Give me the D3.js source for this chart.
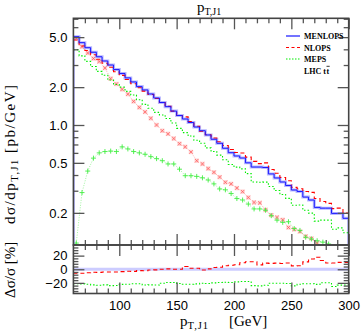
<!DOCTYPE html>
<html>
<head>
<meta charset="utf-8">
<script src="https://cdnjs.cloudflare.com/ajax/libs/d3/7.8.5/d3.min.js"></script>
<style>
body { margin: 0; background: #fff; }
</style>
</head>
<body>
<svg></svg>
<script>
var width = 362;
var height = 332;

// 5 GeV bins of the leading jet pT
var edges = [60,65,70,75,80,85,90,95,100,105,110,115,120,125,130,135,140,145,150,155,
  160,165,170,175,180,185,190,195,200,205,210,215,220,225,230,235,240,245,250,255,
  260,265,270,275,280,285,290,295,300];

var menlops = [5.04,4.52,4.12,3.79,3.49,3.23,3.00,2.76,2.57,2.37,2.20,2.02,1.90,1.765,1.64,1.51,
  1.40,1.29,1.19,1.116,1.047,0.964,0.90,0.833,0.77,0.715,0.653,0.602,0.567,0.546,0.50,0.463,
  0.463,0.459,0.408,0.379,0.352,0.330,0.304,0.296,0.267,0.253,0.221,0.218,0.218,0.198,0.198,0.181];
var nlops = [4.74,4.25,3.91,3.62,3.33,3.10,2.88,2.65,2.48,2.30,2.13,1.98,1.86,1.747,1.624,1.51,
  1.407,1.29,1.19,1.161,1.063,0.978,0.891,0.837,0.789,0.736,0.686,0.638,0.604,0.598,0.555,0.514,
  0.493,0.500,0.443,0.413,0.382,0.360,0.319,0.311,0.296,0.291,0.260,0.246,0.238,0.216,0.218,0.199];
var meps = [3.98,3.55,3.21,2.92,2.67,2.49,2.28,2.10,2.00,1.85,1.73,1.59,1.46,1.36,1.26,1.20,
  1.127,1.038,0.940,0.870,0.817,0.757,0.716,0.658,0.616,0.576,0.529,0.485,0.462,0.448,0.41,0.352,
  0.350,0.351,0.324,0.301,0.280,0.261,0.230,0.231,0.210,0.199,0.172,0.175,0.175,0.148,0.152,0.139];
// the two marked curves
var redCross = [4.9,4.2,3.74,3.38,3.20,2.84,2.34,2.12,1.92,1.76,1.54,1.38,1.27,1.13,1.00,0.90,
  0.85,0.78,0.71,0.67,0.61,0.52,0.49,0.45,0.42,0.385,0.35,0.34,0.315,0.295,0.265,0.242,
  0.24,0.211,0.192,0.184,0.176,0.153,0.148,0.142,0.130,0.125,0.115,0.107,0.100,0.095,0.090,0.085];
var greenPlus = [0.115,0.29,0.43,0.545,0.60,0.615,0.62,0.615,0.67,0.645,0.615,0.60,0.585,0.56,0.54,0.52,
  0.49,0.49,0.445,0.395,0.395,0.39,0.38,0.365,0.34,0.31,0.305,0.285,0.26,0.253,0.235,0.215,
  0.215,0.21,0.19,0.175,0.168,0.17,0.15,0.145,0.128,0.124,0.12,0.117,0.113,0.105,0.10,0.095];

var xMajor = [100,150,200,250,300];
var xMinor = [70,80,90,110,120,130,140,160,170,180,190,210,220,230,240,260,270,280,290];
var yMajor = [0.2,0.5,1,2,5];
var yMinor = [0.3,0.4,0.6,0.7,0.8,0.9,3,4,6,7];
var rMajor = [-20,0,20];
var rMinor = [-32,-28,-24,-16,-12,-8,-4,4,8,12,16,24,28,32];

var legendItems = [
  {label: 'MENLOPS', color: '#0000ff', dash: null},
  {label: 'NLOPS', color: '#ff0000', dash: '3,2.5'},
  {label: 'MEPS', color: '#00ee00', dash: '1.5,1.5'}
];

var svg = d3.select('svg')
  .attr('width', width)
  .attr('height', height)
  .style('background-color', '#fff');

var L = 73.4, R = 348.7, T = 18.3, M = 245, B = 293.5;

var x = d3.scaleLinear().domain([60, 300]).range([L, R]);
var y = d3.scaleLog().domain([0.111, 7.06]).range([M, T]);
var yr = d3.scaleLinear().domain([-35.6, 35.6]).range([B, M]);

svg.append('clipPath').attr('id', 'clipMain')
  .append('rect').attr('x', L).attr('y', T).attr('width', R - L).attr('height', M - T);
svg.append('clipPath').attr('id', 'clipRatio')
  .append('rect').attr('x', L).attr('y', M).attr('width', R - L).attr('height', B - M);

// histogram as step points
function steps(vals, closed, floor) {
  var pts = [];
  if (closed) pts.push([edges[0], floor]);
  vals.forEach(function(v, i) { pts.push([edges[i], v]); });
  pts.push([edges[edges.length - 1], vals[vals.length - 1]]);
  if (closed) pts.push([edges[edges.length - 1], floor]);
  return pts;
}

var stepLine = d3.line()
  .x(d => x(d[0]))
  .y(d => y(Math.max(d[1], 0.05)))
  .curve(d3.curveStepAfter);

var ratioLine = d3.line()
  .x(d => x(d[0]))
  .y(d => yr(d[1]))
  .curve(d3.curveStepAfter);

var centers = edges.slice(0, -1).map(e => e + 2.5);

var gMain = svg.append('g').attr('clip-path', 'url(#clipMain)');

// marked curves
gMain.append('path')
  .datum(redCross)
  .attr('d', d3.line().x((d, i) => x(centers[i])).y(d => y(d)))
  .attr('fill', 'none')
  .attr('stroke', '#ff8080')
  .attr('stroke-width', 0.7)
  .attr('stroke-dasharray', '1,1.5');
var crosses = gMain.append('g').selectAll('g')
  .data(redCross)
  .enter().append('g')
  .attr('transform', (d, i) => 'translate(' + x(centers[i]) + ',' + y(d) + ')');
crosses.append('rect')
  .attr('x', -2.2).attr('y', -2.2).attr('width', 4.4).attr('height', 4.4)
  .attr('fill', '#ffd2d2');
crosses.append('path')
  .attr('d', 'M-1.7,-1.7L1.7,1.7M-1.7,1.7L1.7,-1.7')
  .attr('stroke', '#ff5555')
  .attr('stroke-width', 0.7);

gMain.append('path')
  .datum(greenPlus)
  .attr('d', d3.line().x((d, i) => x(centers[i])).y(d => y(d)))
  .attr('fill', 'none')
  .attr('stroke', '#77ee77')
  .attr('stroke-width', 0.7)
  .attr('stroke-dasharray', '1,1.5');
gMain.append('path')
  .attr('d', 'M' + (x(60) + 0.5) + ',' + y(0.095) + 'L' + x(centers[0]) + ',' + y(greenPlus[0]))
  .attr('stroke', '#77ee77')
  .attr('stroke-width', 0.7)
  .attr('stroke-dasharray', '1,1.5');
gMain.append('g').selectAll('path')
  .data(greenPlus)
  .enter().append('path')
  .attr('transform', (d, i) => 'translate(' + x(centers[i]) + ',' + y(d) + ')')
  .attr('d', 'M-2.5,0L2.5,0M0,-2.5L0,2.5')
  .attr('stroke', '#44ee44')
  .attr('stroke-width', 0.9);

// histograms
gMain.append('path')
  .attr('d', stepLine(steps(menlops, true, 0.05)))
  .attr('fill', 'none')
  .attr('stroke', '#8888ff')
  .attr('stroke-opacity', 0.6)
  .attr('stroke-width', 3);
gMain.append('path')
  .attr('d', stepLine(steps(meps, false)))
  .attr('fill', 'none')
  .attr('stroke', '#00ee00')
  .attr('stroke-width', 1.1)
  .attr('stroke-dasharray', '1.5,2');
gMain.append('path')
  .attr('d', stepLine(steps(nlops, false)))
  .attr('fill', 'none')
  .attr('stroke', '#ff0000')
  .attr('stroke-width', 1.1)
  .attr('stroke-dasharray', '4,3');
gMain.append('path')
  .attr('d', stepLine(steps(menlops, true, 0.05)))
  .attr('fill', 'none')
  .attr('stroke', '#1a1aff')
  .attr('stroke-width', 1);

// ratio panel, relative to MENLOPS
var gRatio = svg.append('g').attr('clip-path', 'url(#clipRatio)');
function rel(vals) {
  return vals.map((v, i) => (v / menlops[i] - 1) * 100);
}
gRatio.append('path')
  .attr('d', ratioLine(steps(rel(menlops), false)))
  .attr('fill', 'none')
  .attr('stroke', '#ccccff')
  .attr('stroke-width', 3);
gRatio.append('path')
  .attr('d', ratioLine(steps(rel(meps), false)))
  .attr('fill', 'none')
  .attr('stroke', '#00ee00')
  .attr('stroke-width', 1.1)
  .attr('stroke-dasharray', '1.5,2');
gRatio.append('path')
  .attr('d', ratioLine(steps(rel(nlops), false)))
  .attr('fill', 'none')
  .attr('stroke', '#ff0000')
  .attr('stroke-width', 1.1)
  .attr('stroke-dasharray', '4,3');

// axes: ticks point inwards on all sides
function ticks(axis, tx, ty, vals, size, fmt) {
  var g = svg.append('g')
    .attr('transform', 'translate(' + tx + ',' + ty + ')')
    .call(axis.tickValues(vals).tickSize(-size).tickPadding(7).tickFormat(fmt || ''));
  g.select('.domain').remove();
  g.selectAll('line').attr('stroke', '#555').attr('stroke-width', 1.3);
  g.selectAll('text')
    .attr('fill', '#000')
    .style('font-family', '"Liberation Sans", Arial, sans-serif')
    .style('font-size', '13px');
  return g;
}

ticks(d3.axisLeft(y), L, 0, yMajor, 11, d3.format('.1f')).selectAll('text').attr('dx', 1);
ticks(d3.axisLeft(y), L, 0, yMinor, 5);
ticks(d3.axisRight(y), R, 0, yMajor, 11);
ticks(d3.axisRight(y), R, 0, yMinor, 5);
ticks(d3.axisTop(x), 0, T, xMajor, 11);
ticks(d3.axisTop(x), 0, T, xMinor, 5);
ticks(d3.axisBottom(x), 0, M, xMajor, 11);
ticks(d3.axisBottom(x), 0, M, xMinor, 5);
ticks(d3.axisTop(x), 0, M, xMajor, 11);
ticks(d3.axisTop(x), 0, M, xMinor, 5);
ticks(d3.axisBottom(x), 0, B, xMajor, 11, d3.format('d'));
ticks(d3.axisBottom(x), 0, B, xMinor, 5);
ticks(d3.axisLeft(yr), L, 0, rMajor, 11, d3.format('d')).selectAll('text').attr('dx', 1);
ticks(d3.axisLeft(yr), L, 0, rMinor, 5);
ticks(d3.axisRight(yr), R, 0, rMajor, 11);
ticks(d3.axisRight(yr), R, 0, rMinor, 5);

// frames
[[T, M], [M, B]].forEach(function(p) {
  svg.append('rect')
    .attr('x', L).attr('y', p[0])
    .attr('width', R - L).attr('height', p[1] - p[0])
    .attr('fill', 'none')
    .attr('stroke', '#444')
    .attr('stroke-width', 1.6);
});

// legend
var leg = svg.append('g')
  .style('font-family', '"Liberation Serif", "Times New Roman", serif')
  .style('font-size', '8px')
  .style('font-weight', 'bold');
legendItems.forEach(function(d, i) {
  var ly = 36 + i * 11.5;
  leg.append('line')
    .attr('x1', 286).attr('x2', 300).attr('y1', ly).attr('y2', ly)
    .attr('stroke', d.color).attr('stroke-width', 1.1)
    .attr('stroke-dasharray', d.dash);
  leg.append('text').attr('x', 304).attr('y', ly + 3).text(d.label);
});
var lhc = leg.append('text').attr('x', 304).attr('y', 73.5).text('LHC  t');
var tx2 = 304 + lhc.node().getComputedTextLength() + 0.5;
var tbar = leg.append('text').attr('x', tx2).attr('y', 73.5).text('t');
var tw = tbar.node().getComputedTextLength();
leg.append('line')
  .attr('x1', tx2).attr('x2', tx2 + tw + 0.5)
  .attr('y1', 66.3).attr('y2', 66.3)
  .attr('stroke', '#000').attr('stroke-width', 0.8);

// titles and axis labels
var serif = '"Liberation Serif", "Times New Roman", serif';
var title = svg.append('text')
  .attr('x', 197).attr('y', 12)
  .style('font-family', serif).style('font-size', '15px');
title.append('tspan').text('p');
title.append('tspan').attr('dy', 3).style('font-size', '10px').text('T,J1');

var xl = svg.append('text')
  .attr('x', 180).attr('y', 326)
  .style('font-family', serif).style('font-size', '15px');
xl.append('tspan').text('p');
xl.append('tspan').attr('dy', 3).style('font-size', '10.5px').style('letter-spacing', '1px').text('T,J1');
xl.append('tspan').attr('x', 229).attr('dy', -3).text('[GeV]');

var yl = svg.append('text')
  .attr('transform', 'translate(15,224) rotate(-90)')
  .style('font-family', serif).style('font-size', '15px')
  .style('letter-spacing', '1.5px');
yl.append('tspan').text('d\u03c3/dp');
yl.append('tspan').attr('dy', 3).style('font-size', '10.5px').text('T,J1');
yl.append('tspan').attr('dy', -3).text('  [pb/GeV]');

svg.append('text')
  .attr('transform', 'translate(15,298) rotate(-90)')
  .style('font-family', serif).style('font-size', '15px')
  .text('\u0394\u03c3/\u03c3  [%]');
</script>
</body>
</html>
